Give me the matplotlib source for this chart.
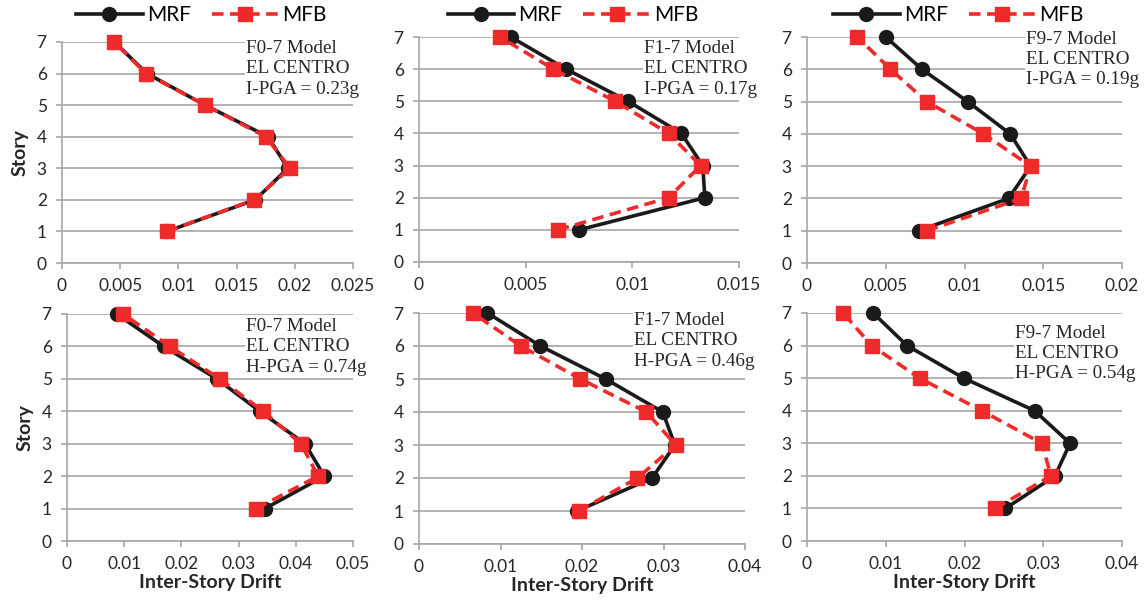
import numpy as np
import matplotlib
matplotlib.use('Agg')
import matplotlib.pyplot as plt

plt.rcParams['font.family'] = ['Lato', 'DejaVu Sans']

stories = [1, 2, 3, 4, 5, 6, 7]

# inter-story drift, story 1 -> 7
mrf_f0_i = [0.0090, 0.0166, 0.0194, 0.0177, 0.0123, 0.0073, 0.0045]
mfb_f0_i = [0.0090, 0.0165, 0.0196, 0.0175, 0.0123, 0.0072, 0.0045]
mrf_f1_i = [0.0075, 0.0134, 0.0133, 0.0123, 0.0098, 0.0069, 0.0043]
mfb_f1_i = [0.0065, 0.0117, 0.0132, 0.0117, 0.0092, 0.0063, 0.0038]
mrf_f9_i = [0.0071, 0.0128, 0.0142, 0.0129, 0.0102, 0.0073, 0.0050]
mfb_f9_i = [0.0076, 0.0136, 0.0142, 0.0112, 0.0076, 0.0053, 0.0032]
mrf_f0_h = [0.0346, 0.0450, 0.0416, 0.0337, 0.0262, 0.0169, 0.0087]
mfb_f0_h = [0.0331, 0.0439, 0.0409, 0.0343, 0.0267, 0.0180, 0.0098]
mrf_f1_h = [0.0194, 0.0286, 0.0314, 0.0299, 0.0229, 0.0149, 0.0084]
mfb_f1_h = [0.0196, 0.0268, 0.0315, 0.0279, 0.0198, 0.0125, 0.0066]
mrf_f9_h = [0.0252, 0.0315, 0.0334, 0.0289, 0.0199, 0.0127, 0.0084]
mfb_f9_h = [0.0239, 0.0310, 0.0298, 0.0222, 0.0143, 0.0082, 0.0046]

labels = ['F0-7 Model\nEL CENTRO\nI-PGA = 0.23g',
          'F1-7 Model\nEL CENTRO\nI-PGA = 0.17g',
          'F9-7 Model\nEL CENTRO\nI-PGA = 0.19g',
          'F0-7 Model\nEL CENTRO\nH-PGA = 0.74g',
          'F1-7 Model\nEL CENTRO\nH-PGA = 0.46g',
          'F9-7 Model\nEL CENTRO\nH-PGA = 0.54g']
xmax = [0.025, 0.015, 0.02, 0.05, 0.04, 0.04]
xstep = [0.005, 0.005, 0.005, 0.01, 0.01, 0.01]
series = [(mrf_f0_i, mfb_f0_i), (mrf_f1_i, mfb_f1_i), (mrf_f9_i, mfb_f9_i),
          (mrf_f0_h, mfb_f0_h), (mrf_f1_h, mfb_f1_h), (mrf_f9_h, mfb_f9_h)]

W, H = 1144, 600
# axes boxes in pixels: left, right, top(7), bottom(0)
boxes = [(62, 353, 42, 263), (419, 739, 37, 262), (807, 1122, 37, 263),
         (67, 353, 314, 541), (419, 745, 313, 544), (807, 1122, 313, 541)]
text_pos = [(246, 40), (644, 40), (1026, 31), (246, 318), (634, 312), (1015, 325)]

black = '#1a1a1a'
red = '#ee2a2a'
grid = '#a6a6a6'

fig = plt.figure(figsize=(W / 100, H / 100), dpi=100)

for i, (mrf, mfb) in enumerate(series):
    l, r, t, b = boxes[i]
    ax = fig.add_axes([l / W, 1 - b / H, (r - l) / W, (b - t) / H])
    ax.plot(mrf, stories, color=black, lw=2.6, marker='o', ms=10,
            label='MRF', zorder=3, clip_on=False)
    ax.plot(mfb, stories, color=red, lw=2.6, ls=(0, (3.2, 1.8)), marker='s',
            ms=10.5, label='MFB', zorder=4, clip_on=False)
    ax.set_xlim(0, xmax[i])
    ax.set_ylim(0, 7)
    ax.set_yticks(range(0, 8))
    ax.set_xticks(np.arange(0, xmax[i] + 1e-9, xstep[i]))
    ax.xaxis.set_major_formatter(plt.FormatStrFormatter('%g'))
    ax.grid(axis='y', color=grid, lw=1.2, zorder=0)
    for s in ['top', 'right']:
        ax.spines[s].set_visible(False)
    for s in ['left', 'bottom']:
        ax.spines[s].set_color(grid)
        ax.spines[s].set_linewidth(1.2)
    ax.tick_params(colors=grid, labelcolor='#262626', labelsize=12.5,
                   length=4, width=1.2, pad=7)

    tx, ty = text_pos[i]
    fig.text(tx / W, 1 - ty / H, labels[i], ha='left', va='top',
             family='Liberation Serif', fontsize=13.8, color='#262626',
             linespacing=1.25,
             bbox=dict(facecolor='white', edgecolor='none', pad=1), zorder=5)

    if i < 3:
        ax.legend(loc='center', bbox_to_anchor=(((l + r) / 2 - 6) / W, 1 - 15 / H),
                  bbox_transform=fig.transFigure, ncol=2, frameon=False,
                  fontsize=15, handlelength=3.2, handletextpad=0.2,
                  columnspacing=1.0, borderpad=0)
    else:
        ax.set_xlabel('Inter-Story Drift', fontsize=14, fontweight='bold',
                      color='#262626', labelpad=1)
    if i in (0, 3):
        ax.set_ylabel('Story', fontsize=14, fontweight='bold',
                      color='#262626', labelpad=6)

fig.savefig('out.png', dpi=100)
